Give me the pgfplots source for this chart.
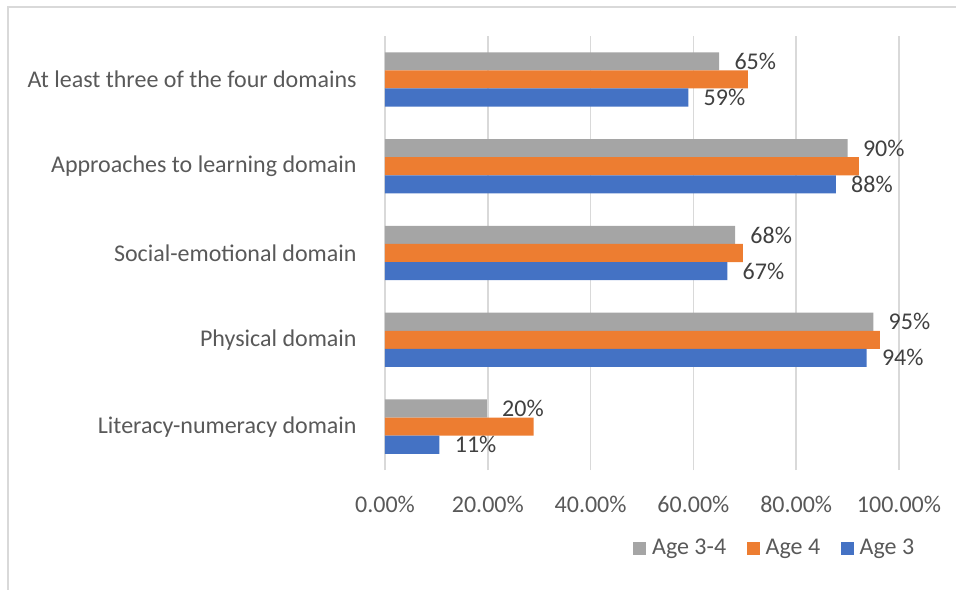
\documentclass[border=0pt]{standalone}
\usepackage{pgfplots}
\pgfplotsset{compat=1.18}
\usepackage{fontspec}
\setmainfont{Carlito}
\definecolor{cgray}{HTML}{A5A5A5}
\definecolor{corange}{HTML}{ED7D31}
\definecolor{cblue}{HTML}{4472C4}
\definecolor{gridc}{HTML}{D9D9D9}
\definecolor{txt}{HTML}{595959}
\definecolor{lbl}{HTML}{404040}
\begin{document}
\begin{tikzpicture}
\path[use as bounding box] (-192.5pt,-59.5pt) rectangle (285.5pt,235pt);
\draw[gridc, line width=1pt] (-188.5pt,-70pt) -- (-188.5pt,231.5pt) -- (300pt,231.5pt);
\begin{axis}[
  at={(0pt,0pt)}, anchor=south west,
  scale only axis, width=257pt, height=217pt,
  xmin=0, xmax=100, ymin=-0.5, ymax=4.5,
  axis lines*=left,
  x axis line style={draw=none},
  y axis line style={gridc, line width=0.75pt},
  xmajorgrids, grid style={gridc, line width=0.75pt},
  tick style={draw=none},
  xtick={0,20,40,60,80,100},
  xticklabels={0.00\%,20.00\%,40.00\%,60.00\%,80.00\%,100.00\%},
  ytick={0,1,2,3,4},
  yticklabels={Literacy-numeracy domain, Physical domain, Social-emotional domain, Approaches to learning domain, At least three of the four domains},
  ticklabel style={font=\fontsize{12pt}{14pt}\selectfont, text=txt},
  xticklabel style={anchor=north, inner sep=0pt, yshift=-13pt},
  yticklabel style={anchor=east, inner sep=0pt, xshift=-14pt},
  /pgf/number format/assume math mode=true,
  legend columns=3,
  legend style={at={(0.762,-0.18)}, anchor=center, draw=none, fill=none,
    font=\fontsize{12pt}{14pt}\selectfont, text=txt,
    /tikz/every even column/.append style={column sep=7.25pt},
    nodes={inner sep=3pt}},
  legend image code/.code={\fill[#1,draw=none] (0pt,-3.25pt) rectangle (6.5pt,3.25pt);},
  every node near coord/.append style={font=\fontsize{12pt}{14pt}\selectfont, text=lbl, anchor=west, inner sep=0pt, xshift=7.5pt},
]
\addplot[xbar, bar width=0.2085, bar shift=0.2085, fill=cgray, draw=none,
  point meta=x, nodes near coords={\pgfmathprintnumber[fixed,precision=0,assume math mode=true]{\pgfplotspointmeta}\%},
  every node near coord/.append style={yshift=9.05pt}]
  coordinates {(19.8,0) (95.0,1) (68.1,2) (90.0,3) (65.0,4)};
\addplot[xbar, bar width=0.2085, bar shift=0, fill=corange, draw=none]
  coordinates {(28.9,0) (96.3,1) (69.6,2) (92.2,3) (70.6,4)};
\addplot[xbar, bar width=0.2085, bar shift=-0.2085, fill=cblue, draw=none,
  point meta=x, nodes near coords={\pgfmathprintnumber[fixed,precision=0,assume math mode=true]{\pgfplotspointmeta}\%},
  every node near coord/.append style={yshift=-9.05pt}]
  coordinates {(10.6,0) (93.7,1) (66.6,2) (87.7,3) (59.0,4)};
\legend{Age 3-4, Age 4, Age 3}
\end{axis}
\end{tikzpicture}
\end{document}
